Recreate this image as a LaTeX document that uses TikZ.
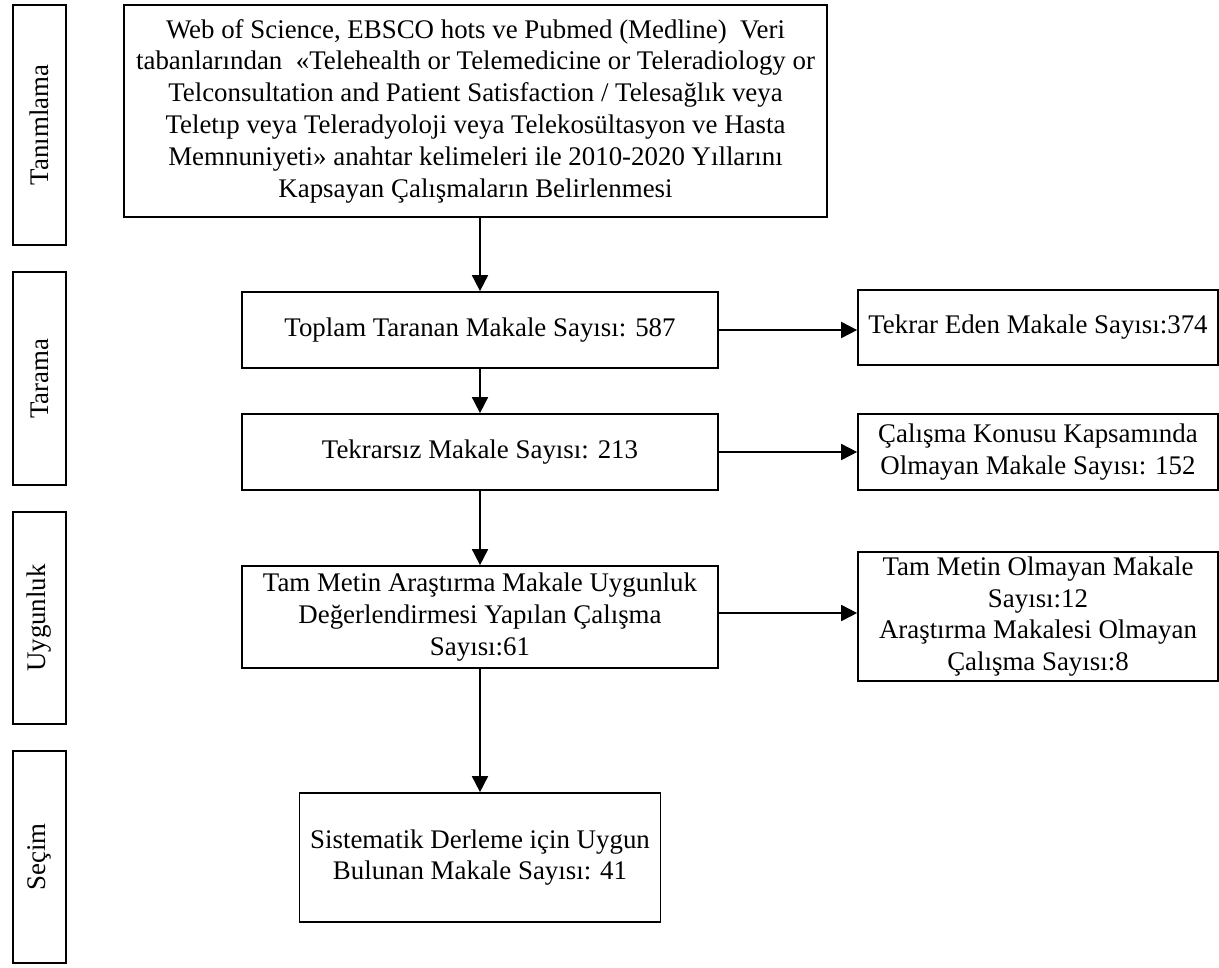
\documentclass[tikz,border=0pt]{standalone}
\usepackage{fontspec}
\setmainfont{Liberation Serif}
\usepackage{tikz}
\usetikzlibrary{arrows.meta}
\usetikzlibrary{positioning}
\tikzset{every node/.style={font=\fontsize{15.3}{18.1}\selectfont},
         kutu/.style={draw,rectangle,line width=1pt,align=center,inner sep=0pt},
         evre/.style={kutu,rotate=90,minimum height=1.06cm},
         pil/.style={-{Triangle[length=0.32cm,width=0.32cm]},line width=1pt}}

\begin{document}
\begin{tikzpicture}[x=0.02cm,y=-0.02cm]
  \useasboundingbox (0,0) rectangle (1219,967);
  \node[evre,minimum width=4.8cm] (tanim) at (39.5,125) {Tanımlama};
  \node[evre,minimum width=4.26cm] (tarama) at (39.5,378.5) {Tarama};
  \node[evre,minimum width=4.24cm] (uygun) at (39.5,618) {Uygunluk};
  \node[evre,minimum width=4.24cm] (secim) at (39.5,857) {Seçim};

  \node[kutu,minimum width=14.06cm,minimum height=4.24cm] (kaynak) at (475.5,111)
    {Web of Science, EBSCO hots ve Pubmed (Medline)~ Veri\\
     tabanlarından~ «Telehealth or Telemedicine or Teleradiology or\\
     Telconsultation and Patient Satisfaction / Telesağlık veya\\
     Teletıp veya Teleradyoloji veya Telekosültasyon ve Hasta\\
     Memnuniyeti» anahtar kelimeleri ile 2010-2020 Yıllarını\\
     Kapsayan Çalışmaların Belirlenmesi};
  \node[kutu,minimum width=9.52cm,minimum height=1.52cm] (toplam) at (480,330)
    {Toplam Taranan Makale Sayısı: 587};
  \node[kutu,minimum width=9.52cm,minimum height=1.52cm] (tekrarsiz) at (480,452)
    {Tekrarsız Makale Sayısı: 213};
  \node[kutu,minimum width=9.52cm,minimum height=2.04cm] (tammetin) at (480,617)
    {Tam Metin Araştırma Makale Uygunluk\\
     Değerlendirmesi Yapılan Çalışma\\
     Sayısı:61};
  \node[kutu,minimum width=7.22cm,minimum height=2.58cm] (sonuc) at (480,857.5)
    {Sistematik Derleme için Uygun\\
     Bulunan Makale Sayısı: 41};

  \node[kutu,minimum width=7.2cm,minimum height=1.5cm] (tekrar) at (1038,327.5)
    {Tekrar Eden Makale Sayısı:374};
  \node[kutu,minimum width=7.2cm,minimum height=1.52cm] (konu) at (1038,452)
    {Çalışma Konusu Kapsamında\\
     Olmayan Makale Sayısı: 152};
  \node[kutu,minimum width=7.2cm,minimum height=2.58cm] (olmayan) at (1038,616.5)
    {Tam Metin Olmayan Makale\\
     Sayısı:12\\
     Araştırma Makalesi Olmayan\\
     Çalışma Sayısı:8};

  \draw[pil] (kaynak.south -| toplam.north) -- (toplam.north);
  \draw[pil] (toplam.south) -- (tekrarsiz.north);
  \draw[pil] (tekrarsiz.south) -- (tammetin.north);
  \draw[pil] (tammetin.south) -- (sonuc.north);
  \draw[pil] (toplam.east) -- (toplam.east -| tekrar.west);
  \draw[pil] (tekrarsiz.east) -- (konu.west);
  \draw[pil] ([yshift=0.08cm]tammetin.east) -- ([yshift=0.08cm]tammetin.east -| olmayan.west);
\end{tikzpicture}
\end{document}
